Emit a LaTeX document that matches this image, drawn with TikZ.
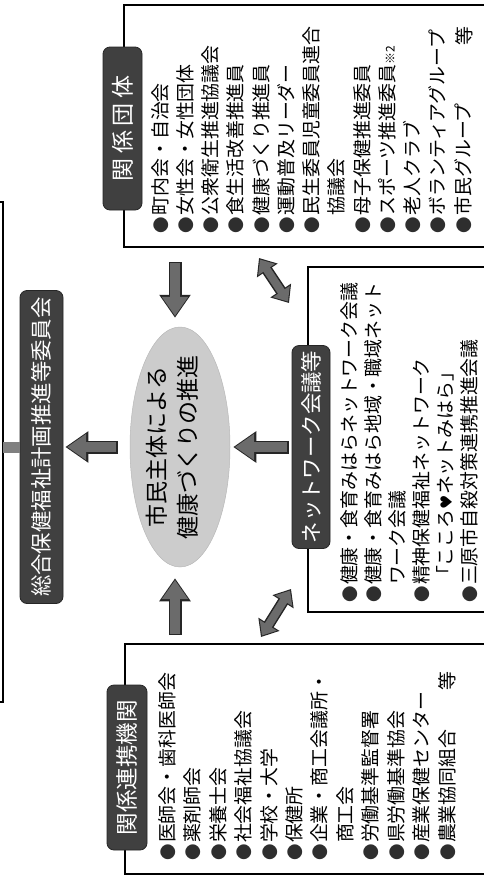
\documentclass[tikz,border=0pt]{standalone}
\usepackage{fontspec}
\newfontfamily\jp{Noto Sans CJK JP}
\newfontfamily\djv{DejaVu Sans}
\usetikzlibrary{arrows.meta,shapes.geometric,calc}
\newcommand\bul{\makebox[18.9pt]{\fontsize{16.5}{16}\selectfont\color{black!82}●}}
\newcommand\BlkArr[2]{%
 \draw[line width=13pt,draw=black!85,-{Triangle[length=23pt,width=30pt]}] (#1) -- (#2);
 \draw[line width=10pt,draw=black!58,shorten >=1.8pt,shorten <=1.3pt,-{Triangle[length=19pt,width=25pt]}] (#1) -- (#2);}
\newcommand\DblArr[2]{%
 \draw[line width=11pt,draw=black!85,{Triangle[length=15pt,width=24pt]}-{Triangle[length=15pt,width=24pt]}] (#1) -- (#2);
 \draw[line width=8pt,draw=black!58,shorten >=1.8pt,shorten <=1.8pt,{Triangle[length=12pt,width=19.5pt]}-{Triangle[length=12pt,width=19.5pt]}] (#1) -- (#2);}
\tikzset{
 boxline/.style={line width=1.3pt,draw=black},
 pill/.style={rotate=90,fill=black!75,draw=black!85,line width=0.8pt,rounded corners=7pt,text=white,inner sep=0pt},
 item/.style={rotate=90,anchor=west,inner sep=0pt,font=\jp\fontsize{18.9}{20}\selectfont},
}
\begin{document}
\begin{tikzpicture}[x=1pt,y=-1pt]
\useasboundingbox (0,0) rectangle (484,876);
% boxes
\draw[boxline] (490,5) -- (124,5) -- (124,247) -- (490,247);
\draw[boxline] (490,267) -- (308,267) -- (308,612) -- (490,612);
\draw[boxline] (490,644) -- (125,644) -- (125,874) -- (490,874);
\draw[boxline] (-10,202) -- (3,202) -- (3,702) -- (-10,702);
% pills
\node[pill,minimum width=163pt,minimum height=39pt,font=\jp\fontsize{23}{23}\selectfont] (p1) at (122.5,128.5) {関\kern4.5pt係\kern4.5pt団\kern4.5pt体};
\node[pill,minimum width=203pt,minimum height=38pt,font=\jp\fontsize{21.4}{22}\selectfont] (p2) at (311,447) {ネットワーク会議等};
\node[pill,minimum width=165pt,minimum height=40pt,font=\jp\fontsize{22.5}{23}\selectfont] (p3) at (127,767.5) {関係連携機関};
\node[pill,minimum width=313pt,minimum height=43pt,font=\jp\fontsize{21.4}{22}\selectfont] (p4) at (41.5,447) {総合保健福祉計画推進等委員会};
\draw[line width=11pt,draw=black!50] (3,447) -- (p4.north);
% ellipse
\node[ellipse,fill=black!20,draw=black!28,line width=0.5pt,minimum width=100pt,minimum height=240pt] (ell) at (180,447) {};
\node[rotate=90,align=center,inner sep=0pt,font=\jp\fontsize{23}{31}\selectfont] (elltxt) at (172.5,447) {市民主体による\\健康づくりの推進};
% lists
\foreach \t [count=\i from 0] in {\bul 町内会・自治会,\bul 女性会・女性団体,\bul 公衆衛生推進協議会,\bul 食生活改善推進員,\bul 健康づくり推進員,\bul 運動普及リーダー,\bul 民生委員児童委員連合,\hspace*{1em}協議会,\bul 母子保健推進委員,\bul スポーツ推進委員{\fontsize{12}{12}\selectfont ※2},\bul 老人クラブ,\bul ボランティアグループ,\bul 市民グループ}
  \node[item] (tr\i) at ({160+25.25*\i},234.5) {\t};
\node[item,anchor=center] (trend) at (464,36) {等};
\foreach \t [count=\i from 0] in {\bul 健康・食育みはらネットワーク会議,\bul 健康・食育みはら地域・職域ネット,\hspace*{1em}ワーク会議,\bul 精神保健福祉ネットワーク,\hspace*{1em}「こころ{\djv\fontsize{16}{16}\selectfont ♥}ネットみはら」,\bul 三原市自殺対策連携推進会議}
  \node[item] (nw\i) at ({349+24*\i},604) {\t};
\foreach \t [count=\i from 0] in {\bul 医師会・歯科医師会,\bul 薬剤師会,\bul 栄養士会,\bul 社会福祉協議会,\bul 学校・大学,\bul 保健所,\bul 企業・商工会議所・,\hspace*{1em}商工会,\bul 労働基準監督署,\bul 県労働基準協会,\bul 産業保健センター,\bul 農業協同組合}
  \node[item] (bt\i) at ({167+25.45*\i},862) {\t};
\node[item,anchor=center] (btend) at (447,681) {等};
% arrows
\coordinate (a1s) at (175,262);
\coordinate (a2s) at (175,635);
\BlkArr{a1s}{$(ell.north)+(-5,-9)$}
\BlkArr{a2s}{$(ell.south)+(-5,11)$}
\BlkArr{$(p2.north)+(-3,0)$}{$(ell.east)+(3,0)$}
\BlkArr{$(ell.west)+(-12,0)$}{$(p4.south)+(2,0)$}
\coordinate (d1a) at (259,258);
\coordinate (d1b) at (289,303);
\coordinate (d2a) at (261,637);
\coordinate (d2b) at (291,589);
\DblArr{d1a}{d1b}
\DblArr{d2a}{d2b}
\end{tikzpicture}
\end{document}
